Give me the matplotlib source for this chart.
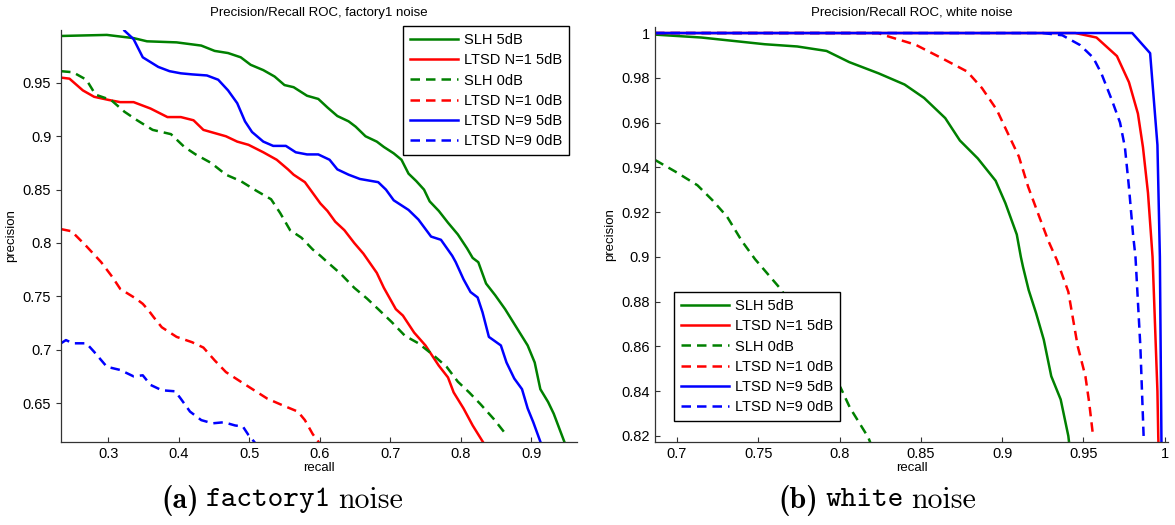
import numpy as np
import matplotlib
matplotlib.use("Agg")
import matplotlib.pyplot as plt

plt.rcParams['font.family'] = ['Liberation Sans', 'DejaVu Sans']

##Data: factory1 noise (recall, precision)
f_slh5_x = [0.233, 0.298, 0.323, 0.336, 0.355, 0.397, 0.432, 0.451, 0.470, 0.488, 0.502, 0.520, 0.536, 0.550, 0.563, 0.582, 0.598, 0.611, 0.625, 0.641, 0.651, 0.665, 0.681, 0.691, 0.705, 0.716, 0.726, 0.737, 0.748, 0.756, 0.769, 0.782, 0.796, 0.809, 0.817, 0.825, 0.836, 0.849, 0.863, 0.879, 0.895, 0.905, 0.913, 0.924, 0.932, 0.940, 0.948]
f_slh5_y = [0.994, 0.995, 0.993, 0.992, 0.989, 0.988, 0.985, 0.980, 0.978, 0.974, 0.967, 0.962, 0.956, 0.948, 0.946, 0.938, 0.935, 0.927, 0.919, 0.914, 0.909, 0.900, 0.895, 0.890, 0.884, 0.878, 0.865, 0.858, 0.850, 0.839, 0.830, 0.819, 0.808, 0.795, 0.786, 0.782, 0.762, 0.751, 0.738, 0.721, 0.704, 0.688, 0.663, 0.651, 0.640, 0.626, 0.612]

f_ltsd1_5_x = [0.233, 0.245, 0.264, 0.280, 0.301, 0.317, 0.336, 0.360, 0.384, 0.403, 0.421, 0.435, 0.467, 0.483, 0.499, 0.520, 0.539, 0.555, 0.563, 0.579, 0.590, 0.601, 0.611, 0.622, 0.635, 0.649, 0.662, 0.681, 0.691, 0.708, 0.718, 0.734, 0.750, 0.769, 0.782, 0.790, 0.804, 0.817, 0.833]
f_ltsd1_5_y = [0.955, 0.954, 0.943, 0.937, 0.934, 0.932, 0.932, 0.926, 0.918, 0.918, 0.915, 0.906, 0.900, 0.895, 0.892, 0.885, 0.878, 0.869, 0.864, 0.857, 0.847, 0.837, 0.830, 0.820, 0.812, 0.800, 0.790, 0.772, 0.758, 0.738, 0.732, 0.716, 0.704, 0.685, 0.674, 0.660, 0.645, 0.629, 0.612]

f_slh0_x = [0.233, 0.250, 0.269, 0.282, 0.304, 0.323, 0.341, 0.363, 0.389, 0.408, 0.424, 0.446, 0.467, 0.488, 0.510, 0.531, 0.544, 0.558, 0.574, 0.590, 0.601, 0.611, 0.630, 0.649, 0.667, 0.683, 0.702, 0.721, 0.740, 0.761, 0.780, 0.796, 0.812, 0.828, 0.847, 0.865]
f_slh0_y = [0.961, 0.960, 0.953, 0.939, 0.934, 0.923, 0.915, 0.906, 0.902, 0.890, 0.883, 0.875, 0.864, 0.858, 0.849, 0.841, 0.828, 0.812, 0.805, 0.794, 0.788, 0.782, 0.771, 0.758, 0.748, 0.738, 0.726, 0.713, 0.706, 0.695, 0.684, 0.670, 0.660, 0.649, 0.635, 0.620]

f_ltsd1_0_x = [0.233, 0.248, 0.269, 0.290, 0.306, 0.317, 0.339, 0.349, 0.357, 0.365, 0.376, 0.397, 0.419, 0.435, 0.451, 0.467, 0.488, 0.507, 0.526, 0.547, 0.569, 0.579, 0.590, 0.599]
f_ltsd1_0_y = [0.813, 0.811, 0.797, 0.782, 0.768, 0.757, 0.748, 0.743, 0.737, 0.730, 0.721, 0.712, 0.707, 0.702, 0.690, 0.679, 0.670, 0.662, 0.654, 0.648, 0.642, 0.634, 0.621, 0.613]

f_ltsd9_5_x = [0.323, 0.336, 0.349, 0.371, 0.387, 0.403, 0.419, 0.440, 0.456, 0.470, 0.483, 0.494, 0.504, 0.520, 0.534, 0.552, 0.566, 0.582, 0.598, 0.614, 0.625, 0.641, 0.657, 0.683, 0.694, 0.705, 0.726, 0.740, 0.758, 0.772, 0.788, 0.793, 0.804, 0.814, 0.824, 0.831, 0.840, 0.857, 0.865, 0.876, 0.887, 0.895, 0.903, 0.914]
f_ltsd9_5_y = [0.999, 0.991, 0.974, 0.965, 0.961, 0.959, 0.958, 0.957, 0.953, 0.943, 0.931, 0.914, 0.904, 0.895, 0.891, 0.891, 0.885, 0.883, 0.883, 0.878, 0.869, 0.864, 0.860, 0.857, 0.850, 0.840, 0.831, 0.822, 0.806, 0.803, 0.788, 0.782, 0.766, 0.754, 0.749, 0.735, 0.712, 0.704, 0.688, 0.673, 0.663, 0.645, 0.632, 0.612]

f_ltsd9_0_x = [0.233, 0.240, 0.250, 0.269, 0.280, 0.298, 0.317, 0.336, 0.349, 0.360, 0.376, 0.395, 0.403, 0.416, 0.432, 0.448, 0.464, 0.480, 0.491, 0.499, 0.508]
f_ltsd9_0_y = [0.706, 0.709, 0.706, 0.706, 0.698, 0.684, 0.681, 0.675, 0.676, 0.667, 0.662, 0.661, 0.654, 0.642, 0.634, 0.631, 0.632, 0.629, 0.628, 0.620, 0.613]

##Data: white noise
w_slh5_x = [0.6865, 0.715, 0.754, 0.774, 0.792, 0.806, 0.824, 0.840, 0.852, 0.865, 0.874, 0.885, 0.896, 0.902, 0.909, 0.9115, 0.9128, 0.9163, 0.9209, 0.9256, 0.9302, 0.936, 0.9407, 0.9415]
w_slh5_y = [0.9993, 0.998, 0.995, 0.994, 0.992, 0.987, 0.982, 0.977, 0.971, 0.962, 0.952, 0.944, 0.934, 0.924, 0.910, 0.900, 0.8956, 0.8852, 0.8748, 0.863, 0.8467, 0.8363, 0.820, 0.815]

w_ltsd1_5_x = [0.6865, 0.945, 0.958, 0.9706, 0.978, 0.9835, 0.9866, 0.9897, 0.9925, 0.9935, 0.9945, 0.9955, 0.996, 0.9962]
w_ltsd1_5_y = [1.0, 1.0, 0.998, 0.9897, 0.978, 0.964, 0.949, 0.9285, 0.900, 0.880, 0.860, 0.840, 0.820, 0.815]

w_slh0_x = [0.6865, 0.699, 0.7126, 0.7217, 0.7308, 0.740, 0.748, 0.7643, 0.8007, 0.8064, 0.8177, 0.820]
w_slh0_y = [0.9433, 0.9381, 0.932, 0.9254, 0.918, 0.907, 0.899, 0.8852, 0.8415, 0.8326, 0.8193, 0.815]

w_ltsd1_0_x = [0.6865, 0.824, 0.8263, 0.8467, 0.8649, 0.8785, 0.8876, 0.8967, 0.9035, 0.9103, 0.916, 0.9228, 0.9285, 0.9337, 0.9407, 0.9465, 0.9512, 0.9535, 0.9558]
w_ltsd1_0_y = [1.0, 1.0, 0.9993, 0.9948, 0.988, 0.9828, 0.9754, 0.9657, 0.9552, 0.9448, 0.9313, 0.918, 0.907, 0.8985, 0.8844, 0.860, 0.8467, 0.835, 0.8207]

w_ltsd9_5_x = [0.6865, 0.980, 0.991, 0.9955, 0.997, 0.998]
w_ltsd9_5_y = [1.0, 1.0, 0.991, 0.95, 0.9, 0.815]

w_ltsd9_0_x = [0.6865, 0.925, 0.937, 0.948, 0.956, 0.961, 0.9675, 0.9725, 0.9755, 0.978, 0.9805, 0.982, 0.9835, 0.985, 0.986, 0.987]
w_ltsd9_0_y = [1.0, 1.0, 0.999, 0.9946, 0.989, 0.982, 0.970, 0.960, 0.949, 0.931, 0.91, 0.9, 0.88, 0.86, 0.84, 0.82]

labels = ['SLH 5dB', 'LTSD N=1 5dB', 'SLH 0dB', 'LTSD N=1 0dB', 'LTSD N=9 5dB', 'LTSD N=9 0dB']
colors = ['#008000', '#ff0000', '#008000', '#ff0000', '#0000ff', '#0000ff']
styles = ['-', '-', '--', '--', '-', '--']

f_series = [(f_slh5_x, f_slh5_y), (f_ltsd1_5_x, f_ltsd1_5_y), (f_slh0_x, f_slh0_y),
            (f_ltsd1_0_x, f_ltsd1_0_y), (f_ltsd9_5_x, f_ltsd9_5_y), (f_ltsd9_0_x, f_ltsd9_0_y)]
w_series = [(w_slh5_x, w_slh5_y), (w_ltsd1_5_x, w_ltsd1_5_y), (w_slh0_x, w_slh0_y),
            (w_ltsd1_0_x, w_ltsd1_0_y), (w_ltsd9_5_x, w_ltsd9_5_y), (w_ltsd9_0_x, w_ltsd9_0_y)]

W, H = 1175, 525
fig = plt.figure(figsize=(W / 100, H / 100), dpi=100)

def px_axes(l, t, r, b):
    return fig.add_axes([l / W, 1 - b / H, (r - l) / W, (b - t) / H])

def draw(ax, series):
    for (x, y), lab, c, s in zip(series, labels, colors, styles):
        if s == '--':
            ax.plot(x, y, color=c, lw=1.8, ls=s, dashes=(3.8, 2.4), label=lab)
        else:
            ax.plot(x, y, color=c, lw=1.8, ls=s, label=lab)
    for sp in ['top', 'right']:
        ax.spines[sp].set_visible(False)
    for sp in ['left', 'bottom']:
        ax.spines[sp].set_color('#333333')
        ax.spines[sp].set_linewidth(0.9)
    ax.tick_params(labelsize=10.5, length=3.5, width=0.8, color='#333333', direction='in')
    ax.set_xlabel('recall', fontsize=9.5, labelpad=1)
    ax.set_ylabel('precision', fontsize=9.5, labelpad=4)

def add_legend(ax, x0, y0):
    leg = ax.legend(loc='upper left', bbox_to_anchor=(x0 / W, 1 - y0 / H), bbox_transform=fig.transFigure,
                    fontsize=10.5, handlelength=3.3, handletextpad=0.35, labelspacing=0.42,
                    borderpad=0.5, borderaxespad=0, fancybox=False, framealpha=1, edgecolor='k')
    leg.get_frame().set_linewidth(1.0)

fmt = lambda v, p: '%g' % round(v, 3)

#Panel a
ax1 = px_axes(61, 30, 577, 442)
draw(ax1, f_series)
ax1.set_xlim(0.233, 0.965)
ax1.set_ylim(0.6135, 0.9996)
ax1.set_xticks(np.arange(0.3, 0.95, 0.1))
ax1.set_yticks(np.arange(0.65, 0.96, 0.05))
ax1.xaxis.set_major_formatter(plt.FuncFormatter(fmt))
ax1.yaxis.set_major_formatter(plt.FuncFormatter(fmt))
ax1.tick_params(axis='y', direction='out')
ax1.set_title('Precision/Recall ROC, factory1 noise', fontsize=9.5, pad=10)
add_legend(ax1, 403, 26)

#Panel b
ax2 = px_axes(655, 27, 1168, 442)
draw(ax2, w_series)
ax2.set_xlim(0.6865, 1.002)
ax2.set_ylim(0.8173, 1.0027)
ax2.set_xticks(np.arange(0.7, 1.001, 0.05))
ax2.set_yticks(np.arange(0.82, 1.001, 0.02))
ax2.xaxis.set_major_formatter(plt.FuncFormatter(fmt))
ax2.yaxis.set_major_formatter(plt.FuncFormatter(fmt))
ax2.set_title('Precision/Recall ROC, white noise', fontsize=9.5, pad=8)
add_legend(ax2, 674, 292)

#Captions: bold label, typewriter word, roman word
renderer = fig.canvas.get_renderer()

def caption(cx, cy, parts, size=21.5):
    texts = []
    for s, fam in parts:
        texts.append(fig.text(0, 1 - cy / H, s, family=fam, fontsize=size, va='center', ha='left'))
    space = size * 0.33
    widths = [t.get_window_extent(renderer).width for t in texts]
    total = sum(widths) + space * (len(parts) - 1)
    x = cx - total / 2
    for t, w in zip(texts, widths):
        t.set_x(x / W)
        x += w + space

caption(282, 500, [('(a)', 'cmb10'), ('factory1', 'cmtt10'), ('noise', 'cmr10')])
caption(877, 500, [('(b)', 'cmb10'), ('white', 'cmtt10'), ('noise', 'cmr10')])

fig.savefig('out.png', dpi=100)
